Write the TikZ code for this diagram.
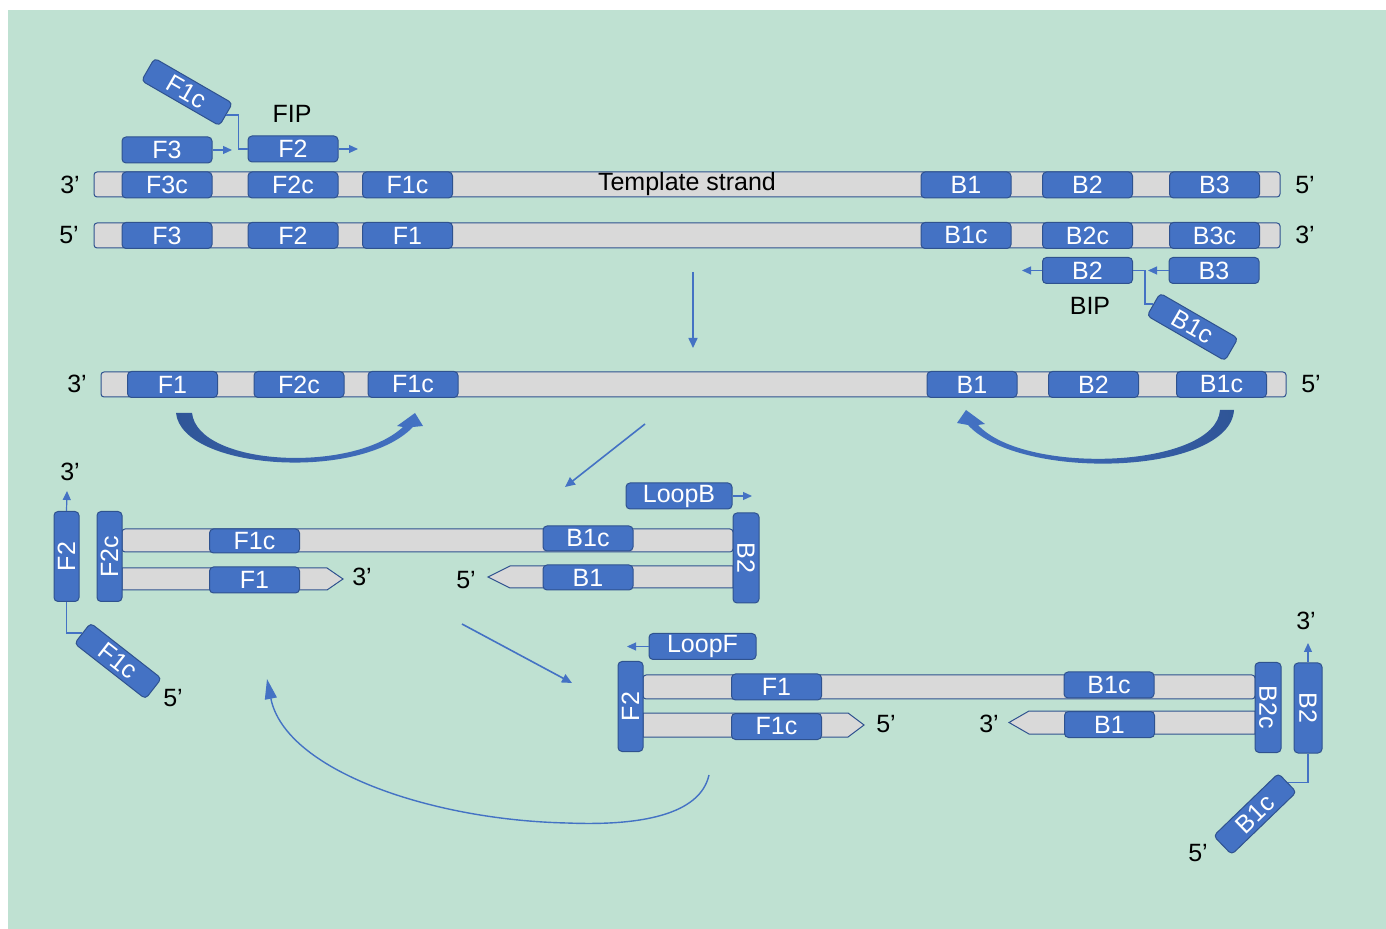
\documentclass[tikz,border=0pt]{standalone}
\usepackage{fontspec}
\setmainfont{Liberation Sans}
\usetikzlibrary{arrows.meta,calc}
\definecolor{bg}{RGB}{191,225,210}
\definecolor{boxblue}{HTML}{4472C4}
\definecolor{boxline}{HTML}{2F528F}
\definecolor{strandgray}{HTML}{D9D9D9}
\definecolor{darkarrow}{HTML}{2F5597}
\begin{document}
\begin{tikzpicture}[x=0.5pt,y=-0.5pt,
 seg/.style={rectangle, rounded corners=2pt, fill=boxblue, draw=boxline, line width=0.5pt, text=white, font=\fontsize{12.5}{14}\selectfont, minimum width=45pt, minimum height=13pt, inner sep=0pt},
 vseg/.style={seg, minimum height=12.5pt},
 bar/.style={rectangle, rounded corners=1.5pt, fill=strandgray, draw=boxline, line width=0.5pt, inner sep=0pt},
 barpath/.style={fill=strandgray, draw=boxline, line width=0.5pt},
 lbl/.style={font=\fontsize{12.5}{14}\selectfont, text=black, inner sep=0pt},
 conn/.style={draw=boxblue, line width=0.8pt},
 ext/.style={draw=boxblue, line width=0.6pt, -{Triangle[length=4.5pt,width=4pt]}},
 flow/.style={draw=boxblue, line width=0.8pt, -{Triangle[length=5pt,width=4.5pt]}},
]
\useasboundingbox (0,0) rectangle (1386,929);
\fill[white] (0,0) rectangle (1386,929);
\fill[bg] (8,10) rectangle (1386,929);

% ---------- Row 1: template strand ----------
\node[bar, minimum width=593pt, minimum height=12.5pt, font=\fontsize{12.5}{14}\selectfont] (tmpl) at (687,184.5) {Template strand};
\node[seg] (r1a) at (167,185) {F3c};
\node[seg] (r1b) at (293,185) {F2c};
\node[seg] (r1c) at (407.5,185) {F1c};
\node[seg] (r1d) at (966,185) {B1};
\node[seg] (r1e) at (1087.5,185) {B2};
\node[seg] (r1f) at (1214.5,185) {B3};
\node[lbl] (r1l) at (70,185) {3’};
\node[lbl] (r1r) at (1305,185) {5’};

% ---------- Row 2: complementary strand ----------
\node[bar, minimum width=593pt, minimum height=12.5pt] (comp) at (687,235.5) {};
\node[seg] (r2a) at (167,235.5) {F3};
\node[seg] (r2b) at (293,235.5) {F2};
\node[seg] (r2c) at (407.5,235.5) {F1};
\node[seg] (r2d) at (966,235.5) {B1c};
\node[seg] (r2e) at (1087.5,235.5) {B2c};
\node[seg] (r2f) at (1214.5,235.5) {B3c};
\node[lbl] (r2l) at (69,235) {5’};
\node[lbl] (r2r) at (1305,235) {3’};

% ---------- FIP / F3 primers ----------
\node[seg] (pF3) at (167,150) {F3};
\node[seg] (pF2) at (293,149) {F2};
\coordinate (pF3e) at (232,150);
\coordinate (pF2e) at (358,149);
\draw[ext] (pF3.east) -- (pF3e);
\draw[ext] (pF2.east) -- (pF2e);
\node[lbl] (fip) at (292,114) {FIP};
\node[seg, rotate=-30] (pF1c) at (187,92) {F1c};
\draw[conn] (pF1c.east) -- ++(12,0) |- (pF2.west);

% ---------- BIP / B3 primers ----------
\node[seg] (pB2) at (1087.5,270.5) {B2};
\node[seg] (pB3) at (1214,270.5) {B3};
\coordinate (pB2e) at (1022,270.5);
\coordinate (pB3e) at (1148,270.5);
\draw[ext] (pB2.west) -- (pB2e);
\draw[ext] (pB3.west) -- (pB3e);
\node[lbl] (bip) at (1090,306) {BIP};
\node[seg, rotate=-30] (pB1c) at (1192.5,327) {B1c};
\draw[conn] (pB2.east) -- ++(12,0) |- (pB1c.west);

% ---------- down arrow ----------
\coordinate (d1s) at (693,272);
\coordinate (d1e) at (693,348);
\draw[flow] (d1s) -- (d1e);

% ---------- Row 3 ----------
\node[bar, minimum width=592.5pt, minimum height=12.5pt] (r3) at (693.5,384.5) {};
\node[seg] (r3a) at (172.5,384.5) {F1};
\node[seg] (r3b) at (299,384.5) {F2c};
\node[seg] (r3c) at (413,384.5) {F1c};
\node[seg] (r3d) at (972,384.5) {B1};
\node[seg] (r3e) at (1093.5,384.5) {B2};
\node[seg] (r3f) at (1221.5,384.5) {B1c};
\node[lbl] (r3l) at (77,384) {3’};
\node[lbl] (r3r) at (1311,384) {5’};

% thick curved arrows
\shade[left color=darkarrow, right color=boxblue] (176,413) .. controls (182,470) and (360,482) .. (413,427) -- (423,426) -- (415,413) -- (397,426) -- (403,427) .. controls (352,474) and (198,466) .. (192,413) -- cycle;
\shade[left color=boxblue, right color=darkarrow] (1234,410) .. controls (1230,475) and (1020,482) .. (968,425) -- (957,423) -- (966,410) -- (985,424) -- (978,425) .. controls (1025,476) and (1216,468) .. (1220,410) -- cycle;

% diagonal arrows
\coordinate (d2s) at (645,424);
\coordinate (d2e) at (565,487);
\draw[flow] (d2s) -- (d2e);
\coordinate (d3s) at (462,624);
\coordinate (d3e) at (572,683);
\draw[flow] (d3s) -- (d3e);

% ---------- middle-left structure ----------
\node[bar, minimum width=305.5pt, minimum height=11.5pt] (mlU) at (427.5,540.5) {};
\draw[barpath] (122,568) -- (327,568) -- (343,579) -- (327,590) -- (122,590) -- cycle;
\draw[barpath] (488,577) -- (510,566) -- (733,566) -- (733,588) -- (510,588) -- cycle;
\node[vseg, rotate=90] (mlF2) at (66.5,556.5) {F2};
\node[vseg, rotate=90] (mlF2c) at (109.5,556.5) {F2c};
\node[seg, minimum height=12pt] (mlF1c) at (254.5,541) {F1c};
\node[seg] (mlF1) at (254.5,580) {F1};
\node[seg, minimum height=12.5pt] (mlB1c) at (588,538.5) {B1c};
\node[seg, minimum height=12.5pt] (mlB1) at (588,577.5) {B1};
\node[seg, rotate=-90] (mlB2) at (746,558) {B2};
\node[seg, minimum width=53pt] (mlLB) at (679,496) {LoopB};
\coordinate (mlLBe) at (752,496);
\draw[ext] (mlLB.east) -- (mlLBe);
\coordinate (mlF2e) at (67,491);
\draw[ext] (mlF2.east) -- (mlF2e);
\node[lbl] (ml3a) at (70,472) {3’};
\node[seg, rotate=-38] (mlF1cr) at (118,661) {F1c};
\draw[conn] (mlF2.west) |- (mlF1cr.west);
\node[lbl] (ml5a) at (173,698) {5’};
\node[lbl] (ml3b) at (362,577) {3’};
\node[lbl] (ml5b) at (466,580) {5’};

% ---------- lower-right structure ----------
\node[bar, minimum width=306pt, minimum height=12pt] (lrU) at (949,687) {};
\draw[barpath] (643,713) -- (848,713) -- (864,725) -- (848,737) -- (643,737) -- cycle;
\draw[barpath] (1009,722.5) -- (1029,711) -- (1255,711) -- (1255,734) -- (1029,734) -- cycle;
\node[vseg, rotate=90] (lrF2) at (630.5,706.5) {F2};
\node[seg, minimum width=53.5pt] (lrLF) at (702.5,646.5) {LoopF};
\coordinate (lrLFe) at (627,646.5);
\draw[ext] (lrLF.west) -- (lrLFe);
\node[seg] (lrF1) at (776.5,687) {F1};
\node[seg] (lrF1c) at (776.5,726.5) {F1c};
\node[seg] (lrB1c) at (1109,685) {B1c};
\node[seg] (lrB1) at (1109.5,724.5) {B1};
\node[seg, rotate=-90] (lrB2c) at (1268,707.5) {B2c};
\node[seg, rotate=-90, minimum height=14pt] (lrB2) at (1308,708) {B2};
\coordinate (lrB2e) at (1308,643);
\draw[ext] (lrB2.west) -- (lrB2e);
\node[seg, rotate=44] (lrB1cr) at (1255,814) {B1c};
\draw[conn] (lrB2.east) |- (lrB1cr.east);
\node[lbl] (lr5a) at (886,724) {5’};
\node[lbl] (lr3a) at (989,724) {3’};
\node[lbl] (lr3b) at (1306,621) {3’};
\node[lbl] (lr5b) at (1198,853) {5’};

% thin curved return arrow
\coordinate (cs) at (709,775);
\coordinate (ce) at (267,679);
\draw[draw=boxblue, line width=0.7pt, -{Triangle[length=10pt,width=6pt]}] (cs) .. controls (700,815) and (640,826) .. (567,823) .. controls (430,820) and (285,770) .. (ce);
\end{tikzpicture}
\end{document}
